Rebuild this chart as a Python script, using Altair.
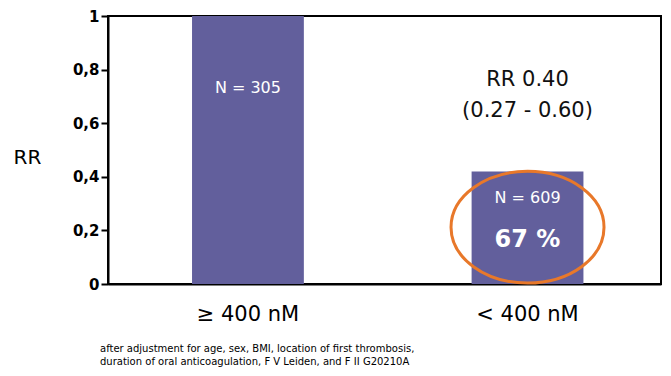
import altair as alt
import pandas as pd

categories = ["≥ 400 nM", "< 400 nM"]
rr_values = [1.0, 0.42]
n_labels = ["N = 305", "N = 609"]
n_label_y = [0.733, 0.321]

rr_text = ["RR 0.40", "(0.27 - 0.60)"]
rr_text_y = [0.763, 0.646]
rr_text_cat = ["< 400 nM", "< 400 nM"]

pct_text = ["67 %"]
pct_y = [0.164]
pct_cat = ["< 400 nM"]

ellipse_cat = ["< 400 nM"]
ellipse_y = [0.212]

footnote = [
    "after adjustment for age, sex, BMI, location of first thrombosis,",
    "duration of oral anticoagulation, F V Leiden, and F II G20210A",
]

FONT = "DejaVu Sans"
BAR_COLOR = "#625F9C"
ORANGE = "#E8782A"

bars_df = pd.DataFrame({"cat": categories, "rr": rr_values, "n": n_labels, "ny": n_label_y})
rr_df = pd.DataFrame({"cat": rr_text_cat, "y": rr_text_y, "t": rr_text})
pct_df = pd.DataFrame({"cat": pct_cat, "y": pct_y, "t": pct_text})
ell_df = pd.DataFrame({"cat": ellipse_cat, "y": ellipse_y})

x_scale = alt.Scale(domain=categories, paddingInner=0.6, paddingOuter=0.289, align=0.52)
y_scale = alt.Scale(domain=[0, 1], nice=False)

x_enc = alt.X(
    "cat:N",
    scale=x_scale,
    sort=categories,
    title=None,
    axis=alt.Axis(
        labelAngle=0,
        labelFont=FONT,
        labelFontSize=21,
        labelColor="black",
        labelPadding=19,
        ticks=False,
        domainColor="black",
        domainWidth=2,
    ),
)

y_axis = alt.Axis(
    values=[0, 0.2, 0.4, 0.6, 0.8, 1],
    labelExpr="datum.value == 0 ? '0' : datum.value == 1 ? '1' : replace(format(datum.value, '.1f'), '.', ',')",
    labelFont=FONT,
    labelFontWeight="bold",
    labelFontSize=15,
    labelColor="black",
    labelPadding=2,
    tickSize=7,
    tickWidth=2,
    tickColor="black",
    domainColor="black",
    domainWidth=2,
    grid=False,
    title="RR",
    titleAngle=0,
    titleFont=FONT,
    titleFontSize=20,
    titleFontWeight="normal",
    titleColor="black",
    titleAlign="center",
    titleBaseline="middle",
    titleX=-81,
    titleY=141,
)

bars = alt.Chart(bars_df).mark_bar(color=BAR_COLOR).encode(
    x=x_enc,
    y=alt.Y("rr:Q", scale=y_scale, axis=y_axis),
)

n_text = alt.Chart(bars_df).mark_text(
    font=FONT, fontSize=16, color="white", baseline="middle"
).encode(
    x=alt.X("cat:N", scale=x_scale, sort=categories),
    y=alt.Y("ny:Q", scale=y_scale),
    text="n:N",
)

rr_ann = alt.Chart(rr_df).mark_text(
    font=FONT, fontSize=21, color="#111111", baseline="middle"
).encode(
    x=alt.X("cat:N", scale=x_scale, sort=categories),
    y=alt.Y("y:Q", scale=y_scale),
    text="t:N",
)

pct_ann = alt.Chart(pct_df).mark_text(
    font=FONT, fontSize=24, fontWeight="bold", color="white", baseline="middle"
).encode(
    x=alt.X("cat:N", scale=x_scale, sort=categories),
    y=alt.Y("y:Q", scale=y_scale),
    text="t:N",
)

ellipse = alt.Chart(ell_df).mark_point(
    shape="M -1 0 A 1 0.73 0 1 0 1 0 A 1 0.73 0 1 0 -1 0 Z",
    size=153 * 153,
    filled=False,
    stroke=ORANGE,
    strokeWidth=3,
    opacity=1,
).encode(
    x=alt.X("cat:N", scale=x_scale, sort=categories),
    y=alt.Y("y:Q", scale=y_scale),
)

chart = (
    alt.layer(bars, n_text, rr_ann, pct_ann, ellipse)
    .properties(
        width=553,
        height=268,
        padding={"left": 100, "top": 8, "right": 2, "bottom": 84},
        autosize=alt.AutoSizeParams(type="none"),
        background="white",
        title=alt.TitleParams(
            text=footnote,
            orient="bottom",
            anchor="start",
            frame="group",
            dx=-8,
            offset=20,
            font=FONT,
            fontSize=10,
            fontWeight="normal",
            color="black",
            lineHeight=13,
        ),
    )
    .configure_view(stroke="black", strokeWidth=2)
)

chart.save("out.html", embed_options={"renderer": "svg", "actions": False})
